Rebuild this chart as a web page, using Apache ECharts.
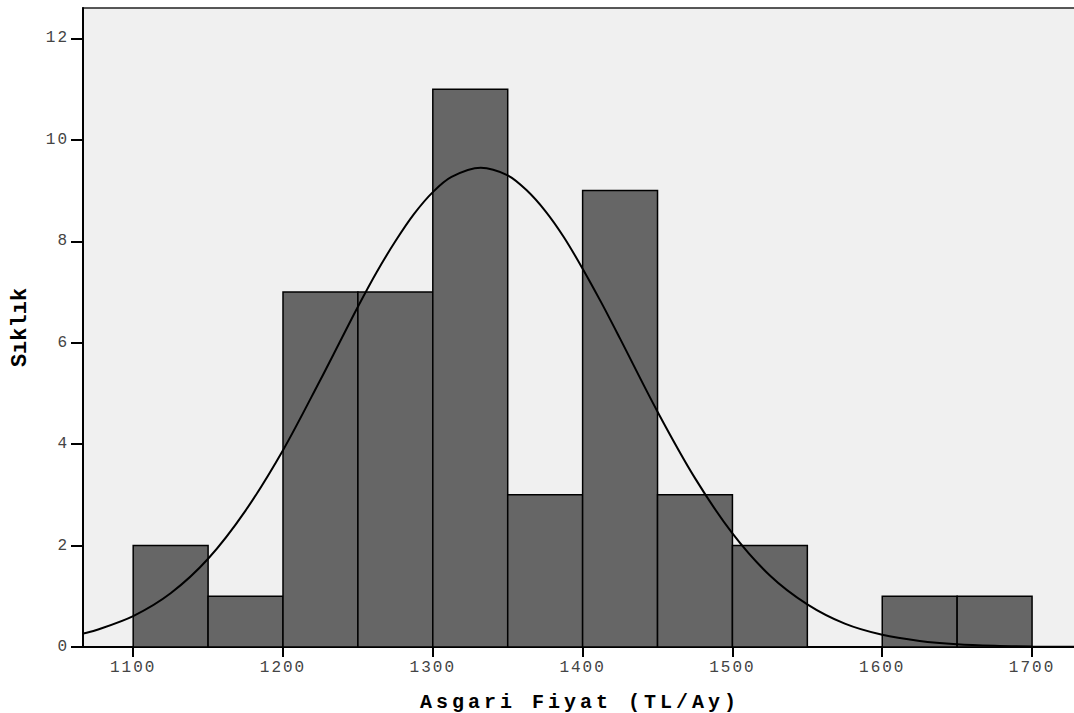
<!DOCTYPE html>
<html>
<head>
<meta charset="utf-8">
<script src="https://cdn.jsdelivr.net/npm/echarts@6/dist/echarts.min.js"></script>
<style>
  html, body { margin: 0; padding: 0; background: #fff; }
  #chart { width: 1074px; height: 713px; }
</style>
</head>
<body>
<div id="chart"></div>
<script>
// histogram bins (lower edge, upper edge) and counts
const binStart = [1100, 1150, 1200, 1250, 1300, 1350, 1400, 1450, 1500, 1550, 1600, 1650]
const binEnd   = [1150, 1200, 1250, 1300, 1350, 1400, 1450, 1500, 1550, 1600, 1650, 1700]
const counts   = [2, 1, 7, 7, 11, 3, 9, 3, 2, 0, 1, 1]

// normal curve
const curveX = [1066, 1075, 1100, 1125, 1150, 1175, 1200, 1225, 1237.5, 1250, 1262.5, 1275, 1287.5, 1300, 1312.5, 1332, 1350, 1362.5, 1375, 1387.5, 1400, 1412.5, 1425, 1450, 1475, 1500, 1525, 1550, 1575, 1600, 1625, 1650, 1675, 1700, 1730]
const curveY = [0.26, 0.33, 0.61, 1.06, 1.74, 2.69, 3.88, 5.27, 5.99, 6.71, 7.39, 8.0, 8.54, 8.97, 9.27, 9.45, 9.3, 9.01, 8.6, 8.08, 7.46, 6.79, 6.08, 4.64, 3.33, 2.24, 1.41, 0.84, 0.46, 0.24, 0.12, 0.054, 0.023, 0.009, 0.003]

const xTicks = [1100, 1200, 1300, 1400, 1500, 1600, 1700]
const yTicks = [0, 2, 4, 6, 8, 10, 12]

const xTitle = 'Asgari Fiyat (TL/Ay)'
const yTitle = 'Sıklık'

const chart = echarts.init(document.getElementById('chart'), null, { renderer: 'svg' })

const tickFont = { fontFamily: 'Liberation Mono', fontSize: 16, color: '#444', formatter: v => String(v) }

chart.setOption({
  animation: false,
  backgroundColor: '#fff',
  grid: {
    left: 83, right: -3, top: 8, bottom: 66,
    outerBoundsMode: 'none',
    containLabel: false,
    show: true, backgroundColor: '#f0f0f0', borderColor: '#222', borderWidth: 1.5
  },
  xAxis: {
    type: 'value',
    min: 1066.5,
    max: 1730,
    name: xTitle,
    nameLocation: 'middle',
    nameGap: 45,
    nameTextStyle: { fontFamily: 'Liberation Mono', fontWeight: 'bold', fontSize: 20, color: '#000' },
    axisLine: { show: true, onZero: false, lineStyle: { color: '#000', width: 2 } },
    axisTick: { show: true, length: 10, lineStyle: { color: '#000', width: 2 }, customValues: xTicks },
    axisLabel: { ...tickFont, margin: 13, customValues: xTicks },
    splitLine: { show: false }
  },
  yAxis: {
    type: 'value',
    min: 0,
    max: 12.6,
    name: yTitle,
    nameLocation: 'middle',
    nameGap: 52,
    nameTextStyle: { fontFamily: 'Liberation Mono', fontWeight: 'bold', fontSize: 22, color: '#000' },
    axisLine: { show: true, lineStyle: { color: '#000', width: 2 } },
    axisTick: { show: true, length: 12, lineStyle: { color: '#000', width: 2 }, customValues: yTicks },
    axisLabel: { ...tickFont, margin: 14, customValues: yTicks },
    splitLine: { show: false }
  },
  series: [
    {
      type: 'custom',
      data: counts.map((c, i) => [binStart[i], binEnd[i], c]),
      renderItem: (params, api) => {
        if (api.value(2) <= 0) return null
        const p0 = api.coord([api.value(0), api.value(2)])
        const p1 = api.coord([api.value(1), 0])
        return {
          type: 'rect',
          shape: { x: p0[0], y: p0[1], width: p1[0] - p0[0], height: p1[1] - p0[1] },
          style: { fill: '#666666', stroke: '#000', lineWidth: 1.5 }
        }
      },
      z: 2
    },
    {
      type: 'line',
      data: curveX.map((x, i) => [x, curveY[i]]),
      smooth: 0.3,
      symbol: 'none',
      lineStyle: { color: '#000', width: 2 },
      z: 3
    }
  ]
})

// letter spacing on the texts, like the original
const spaceTexts = () => {
  document.querySelectorAll('#chart text').forEach(t => {
    const s = t.textContent
    if (s === xTitle) t.style.letterSpacing = '4px'
    else if (s === yTitle) t.style.letterSpacing = '0px'
    else t.style.letterSpacing = '2px'
  })
}
chart.on('finished', spaceTexts)
spaceTexts()
</script>
</body>
</html>
